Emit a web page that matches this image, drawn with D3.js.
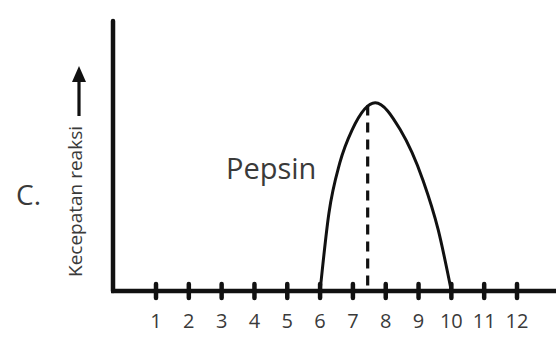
<!DOCTYPE html>
<html>
<head>
<meta charset="utf-8">
<script src="https://cdn.jsdelivr.net/npm/d3@7"></script>
<style>
  body { margin: 0; background: #fff; }
  text { font-family: "Open Sans", "Noto Sans", sans-serif; }
</style>
</head>
<body>
<div id="chart"></div>
<script>
// pH ticks on the x axis
var phTicks = [1, 2, 3, 4, 5, 6, 7, 8, 9, 10, 11, 12];
// pepsin curve (pH, reaction speed in arbitrary units)
var curvePh    = [6.0, 6.27, 6.6, 6.98, 7.68, 8.44, 9.14, 9.6, 10.0];
var curveSpeed = [0,   29,   47.6, 60,  70,   60,   41,   22.7, 0];
// optimum pH marker
var optimumPh = 7.45;
var optimumSpeed = 69;

var W = 556, H = 356;
var svg = d3.select("#chart").append("svg")
    .attr("width", W).attr("height", H);

// scales
var x = d3.scaleLinear().domain([1, 12]).range([156, 517]);
var y = d3.scaleLinear().domain([0, 100]).range([291, 22]);

// axes lines
svg.append("line")
    .attr("x1", 113).attr("y1", 21).attr("x2", 113).attr("y2", y(0))
    .attr("stroke", "#111").attr("stroke-width", 4.5).attr("stroke-linecap", "round");
svg.append("line")
    .attr("x1", 111).attr("y1", y(0)).attr("x2", W + 5).attr("y2", y(0))
    .attr("stroke", "#111").attr("stroke-width", 4.5);

// tick marks
svg.selectAll(".tick")
    .data(phTicks).enter().append("line")
    .attr("class", "tick")
    .attr("x1", function(d){ return x(d); })
    .attr("x2", function(d){ return x(d); })
    .attr("y1", y(0) - 7).attr("y2", y(0) + 7)
    .attr("stroke", "#111").attr("stroke-width", 4.5).attr("stroke-linecap", "round");

// tick labels
svg.selectAll(".tickLabel")
    .data(phTicks).enter().append("text")
    .attr("class", "tickLabel")
    .attr("x", function(d){ return x(d); })
    .attr("y", 328)
    .attr("text-anchor", "middle")
    .style("font-size", "20px")
    .style("fill", "#3a3a3a")
    .text(function(d){ return d; });

// dashed optimum line
svg.append("line")
    .attr("x1", x(optimumPh)).attr("x2", x(optimumPh))
    .attr("y1", y(optimumSpeed)).attr("y2", y(0))
    .attr("stroke", "#111").attr("stroke-width", 3.2)
    .attr("stroke-dasharray", "10,7");

// pepsin curve
var pts = curvePh.map(function(p, i){ return [p, curveSpeed[i]]; });
var line = d3.line()
    .x(function(d){ return x(d[0]); })
    .y(function(d){ return y(d[1]); })
    .curve(d3.curveMonotoneX);
svg.append("path")
    .attr("d", line(pts))
    .attr("fill", "none")
    .attr("stroke", "#111")
    .attr("stroke-width", 3);

// labels
svg.append("text")
    .attr("x", 226).attr("y", 179)
    .style("font-size", "29px").style("fill", "#3a3a3a")
    .text("Pepsin");

svg.append("text")
    .attr("x", 16).attr("y", 205)
    .style("font-size", "28px").style("fill", "#3a3a3a")
    .text("C.");

svg.append("text")
    .attr("transform", "translate(82,277) rotate(-90)")
    .style("font-size", "19px").style("fill", "#3a3a3a")
    .text("Kecepatan reaksi");

// arrow
svg.append("line")
    .attr("x1", 79).attr("y1", 116).attr("x2", 79).attr("y2", 78)
    .attr("stroke", "#111").attr("stroke-width", 3.2);
svg.append("path")
    .attr("d", "M79,66 L86,82 L72,82 Z")
    .attr("fill", "#111");
</script>
</body>
</html>
